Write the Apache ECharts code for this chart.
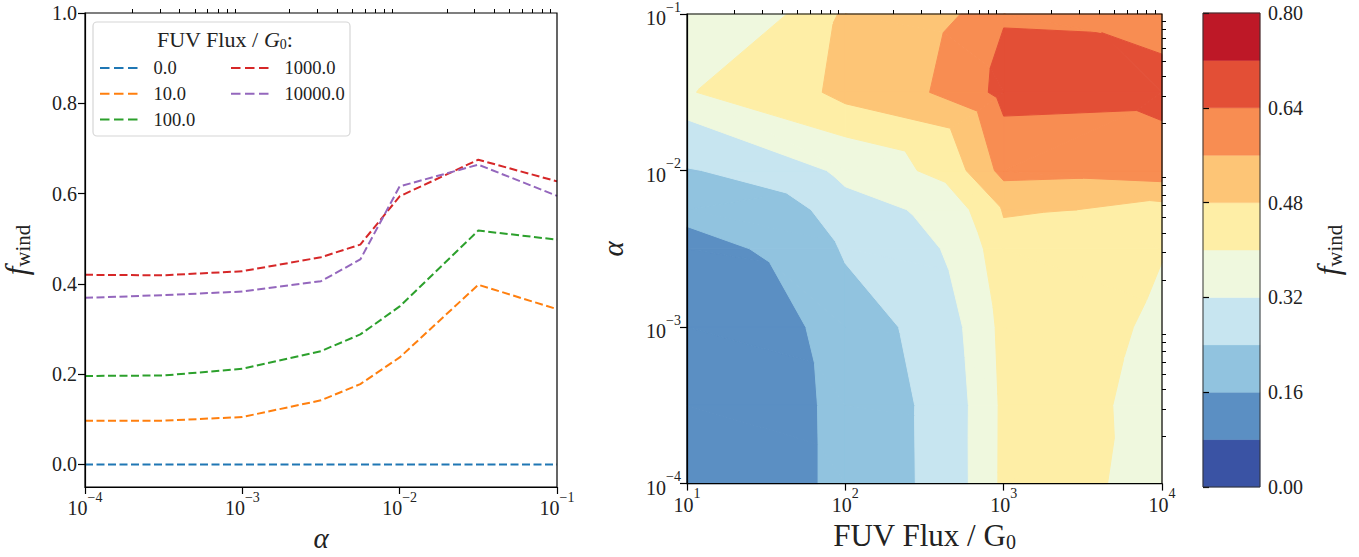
<!DOCTYPE html>
<html>
<head>
<meta charset="utf-8">
<title>f_wind vs alpha and FUV flux</title>
<script src="https://cdn.jsdelivr.net/npm/echarts@6/dist/echarts.min.js"></script>
<style>
  html, body { margin: 0; padding: 0; background: #fff; }
  #main { width: 1359px; height: 557px; }
</style>
</head>
<body>
<div id="main"></div>
<script>
// grid of viscosity values (x of left panel, y of right panel)
var alphaVals = [1e-4, 3.16e-4, 1e-3, 3.16e-3, 5.62e-3, 1e-2, 3.16e-2, 1e-1];
// FUV flux levels (G0) and their legend labels
var fuvFlux = [0, 10, 100, 1000, 10000];
var fuvNames = ['0.0', '10.0', '100.0', '1000.0', '10000.0'];
// f_wind for each flux
var fw0 = [0, 0, 0, 0, 0, 0, 0, 0];
var fw10 = [0.097, 0.097, 0.105, 0.142, 0.178, 0.237, 0.398, 0.344];
var fw100 = [0.196, 0.197, 0.212, 0.251, 0.288, 0.350, 0.518, 0.498];
var fw1000 = [0.420, 0.419, 0.428, 0.459, 0.487, 0.594, 0.675, 0.627];
var fw10000 = [0.369, 0.375, 0.383, 0.406, 0.454, 0.616, 0.664, 0.595];
var lineColors = ['#1f77b4', '#ff7f0e', '#2ca02c', '#d62728', '#9467bd'];

// contour levels and colours (RdYlBu_r, 10 bands)
var cbLevels = [0, 0.08, 0.16, 0.24, 0.32, 0.40, 0.48, 0.56, 0.64, 0.72, 0.80];
var cbColors = ['#3a53a4', '#5b8fc3', '#91c3df', '#c7e5f0', '#eff8de',
                '#feeea6', '#fdc576', '#f88d52', '#e34f36', '#be1827'];
var cbTicks = [0, 0.16, 0.32, 0.48, 0.64, 0.80];
var fwTicks = [0, 0.2, 0.4, 0.6, 0.8, 1.0];
var alphaTicks = [1e-4, 1e-3, 1e-2, 1e-1];
var fluxTicks = [10, 100, 1000, 10000];
// how each grid cell of the triangulation is split (0: '\', 1: '/'), rows = alpha cells
var cellSplit = [
  [0, 0, 1],
  [0, 0, 0],
  [0, 0, 0],
  [0, 0, 0],
  [1, 0, 0],
  [0, 1, 1],
  [1, 0, 0]
];

var fwRows = [fw0, fw10, fw100, fw1000, fw10000];
// contour grid uses the non-zero fluxes
var cFlux = fuvFlux.slice(1);
var cRows = fwRows.slice(1);

function minorTicks(lo, hi) {
  var out = [];
  for (var d = lo; d < hi; d *= 10) {
    for (var k = 2; k <= 9; k++) out.push(+(d * k).toPrecision(3));
  }
  return out;
}

var FONT = 'Liberation Serif';
var TXT = '#222';

function powLabel(v) {
  var e = Math.round(Math.log10(v));
  var s = e < 0 ? '\u2212' + (-e) : '' + e;
  return '{b|10}{e|' + s + '}';
}
var powRich = {
  b: { fontSize: 20, fontFamily: FONT, color: TXT, lineHeight: 28, verticalAlign: 'bottom' },
  e: { fontSize: 14, fontFamily: FONT, color: TXT, lineHeight: 28, verticalAlign: 'top' }
};

function clip(poly, level, above) {
  var out = [];
  for (var k = 0; k < poly.length; k++) {
    var p = poly[k], q = poly[(k + 1) % poly.length];
    var pin = above ? p[2] >= level : p[2] <= level;
    var qin = above ? q[2] >= level : q[2] <= level;
    if (pin) out.push(p);
    if (pin !== qin) {
      var t = (level - p[2]) / (q[2] - p[2]);
      out.push([p[0] + t * (q[0] - p[0]), p[1] + t * (q[1] - p[1]), level]);
    }
  }
  return out;
}

// one data item per grid cell of the contour map
var cellData = [];
for (var j = 0; j < alphaVals.length - 1; j++) {
  for (var i = 0; i < cFlux.length - 1; i++) {
    cellData.push([cFlux[i], alphaVals[j], i, j]);
  }
}

function renderCell(params, api) {
  var i = api.value(2), j = api.value(3);
  var BL = [cFlux[i], alphaVals[j], cRows[i][j]];
  var BR = [cFlux[i + 1], alphaVals[j], cRows[i + 1][j]];
  var TL = [cFlux[i], alphaVals[j + 1], cRows[i][j + 1]];
  var TR = [cFlux[i + 1], alphaVals[j + 1], cRows[i + 1][j + 1]];
  var tris = cellSplit[j][i] ? [[BL, BR, TR], [BL, TR, TL]] : [[BL, BR, TL], [BR, TR, TL]];
  var children = [];
  tris.forEach(function (tri) {
    for (var k = 0; k < cbColors.length; k++) {
      var poly = clip(clip(tri, cbLevels[k], true), cbLevels[k + 1], false);
      if (poly.length < 3) continue;
      children.push({
        type: 'polygon',
        shape: { points: poly.map(function (p) { return api.coord([p[0], p[1]]); }) },
        style: { fill: cbColors[k], stroke: cbColors[k], lineWidth: 1 }
      });
    }
  });
  return { type: 'group', children: children };
}

function renderBand(params, api) {
  var a = api.coord([0, api.value(2)]);
  var b = api.coord([1, api.value(1)]);
  return {
    type: 'rect',
    shape: { x: a[0], y: a[1], width: b[0] - a[0], height: b[1] - a[1] },
    style: { fill: cbColors[api.value(3)], stroke: cbColors[api.value(3)], lineWidth: 0.5 }
  };
}
var bandData = cbColors.map(function (c, k) { return [0, cbLevels[k], cbLevels[k + 1], k]; });

var tickLabel = { fontFamily: FONT, fontSize: 20, color: TXT };
var axLine = { show: true, onZero: false, lineStyle: { color: '#000', width: 1.2 } };
var dashIcon = 'path://M0,0h9.5v2h-9.5z M14,0h9.5v2h-9.5z M28,0h9.5v2h-9.5z';

var lineSeries = fwRows.map(function (row, n) {
  return {
    name: fuvNames[n],
    type: 'line',
    xAxisIndex: 0,
    yAxisIndex: 0,
    symbol: 'none',
    z: 3,
    data: alphaVals.map(function (a, k) { return [a, row[k]]; }),
    lineStyle: { color: lineColors[n], width: 2, type: [8, 3.5] },
    itemStyle: { color: lineColors[n] }
  };
});

var legendBase = {
  orient: 'vertical', top: 53, icon: dashIcon, itemWidth: 37.5, itemHeight: 2, itemGap: 5.8,
  selectedMode: false, z: 5,
  textStyle: { fontFamily: FONT, fontSize: 18.5, color: TXT, lineHeight: 20, padding: [0, 0, 0, 11] }
};

var chart = echarts.init(document.getElementById('main'), null, { renderer: 'svg' });
chart.setOption({
  animation: false,
  backgroundColor: '#fff',
  grid: [
    { left: 83, top: 13, width: 474, height: 474, show: true, borderColor: '#000', borderWidth: 1.2, z: 6, backgroundColor: 'transparent' },
    { left: 687, top: 13, width: 475, height: 474, show: true, borderColor: '#000', borderWidth: 1.2, z: 6, backgroundColor: 'transparent' },
    { left: 1203, top: 13, width: 57, height: 474, show: true, borderColor: '#333', borderWidth: 1, z: 6, backgroundColor: 'transparent' }
  ],
  title: {
    text: 'FUV Flux / {i|G}{s|0}:',
    left: 152, top: 22,
    textStyle: {
      fontFamily: FONT, fontSize: 22, fontWeight: 'normal', color: TXT,
      rich: {
        i: { fontFamily: FONT, fontSize: 22, fontStyle: 'italic', color: TXT },
        s: { fontFamily: FONT, fontSize: 14, color: TXT, padding: [10, 0, 0, 0] }
      }
    }
  },
  graphic: [{
    type: 'rect', z: 3,
    shape: { x: 93, y: 22, width: 257, height: 114, r: 4 },
    style: { fill: 'rgba(255,255,255,0.85)', stroke: '#d6d6d6', lineWidth: 1.2 }
  }],
  legend: [
    Object.assign({ data: fuvNames.slice(0, 3), left: 95 }, legendBase),
    Object.assign({ data: fuvNames.slice(3), left: 226 }, legendBase)
  ],
  xAxis: [
    { gridIndex: 0, type: 'log', logBase: 10, min: 1e-4, max: 1e-1, z: 5,
      axisLine: axLine, splitLine: { show: false },
      axisTick: { show: true, length: 7, customValues: alphaTicks, lineStyle: { color: '#000', width: 1.2 } },
      axisLabel: { customValues: alphaTicks, formatter: powLabel, rich: powRich, margin: 3 },
      name: '\u03b1', nameLocation: 'middle', nameGap: 36,
      nameTextStyle: { fontFamily: FONT, fontSize: 29, fontStyle: 'italic', color: TXT } },
    { gridIndex: 0, type: 'log', logBase: 10, min: 1e-4, max: 1e-1, z: 5,
      axisLine: { show: false, onZero: false }, splitLine: { show: false }, axisLabel: { show: false },
      axisTick: { show: true, length: 4, customValues: minorTicks(1e-4, 1e-1), lineStyle: { color: '#000', width: 1 } } },
    { gridIndex: 1, type: 'log', logBase: 10, min: 10, max: 10000, z: 5,
      axisLine: axLine, splitLine: { show: false },
      axisTick: { show: true, length: 7, customValues: fluxTicks, lineStyle: { color: '#000', width: 1.2 } },
      axisLabel: { customValues: fluxTicks, formatter: powLabel, rich: powRich, margin: 3 },
      name: 'FUV Flux / G{s|0}', nameLocation: 'middle', nameGap: 34,
      nameTextStyle: { fontFamily: FONT, fontSize: 31, color: TXT,
        rich: { s: { fontFamily: FONT, fontSize: 20, color: TXT, padding: [14, 0, 0, 0] } } } },
    { gridIndex: 1, type: 'log', logBase: 10, min: 10, max: 10000, z: 5,
      axisLine: { show: false, onZero: false }, splitLine: { show: false }, axisLabel: { show: false },
      axisTick: { show: true, length: 4, customValues: minorTicks(10, 10000), lineStyle: { color: '#000', width: 1 } } },
    { gridIndex: 2, type: 'value', min: 0, max: 1, show: false }
  ],
  yAxis: [
    { gridIndex: 0, type: 'value', min: -0.05, max: 1.0, z: 5,
      axisLine: axLine, splitLine: { show: false },
      axisTick: { show: true, length: 7, customValues: fwTicks, lineStyle: { color: '#000', width: 1.2 } },
      axisLabel: Object.assign({ customValues: fwTicks, margin: 8, formatter: function (v) { return v.toFixed(1); } }, tickLabel),
      name: '{f|f}{s|wind}', nameLocation: 'middle', nameGap: 52, nameRotate: 90,
      nameTextStyle: { rich: {
        f: { fontFamily: FONT, fontSize: 31, fontStyle: 'italic', color: TXT },
        s: { fontFamily: FONT, fontSize: 21, color: TXT, padding: [12, 0, 0, 0] } } } },
    { gridIndex: 1, type: 'log', logBase: 10, min: 1e-4, max: 1e-1, z: 5,
      axisLine: axLine, splitLine: { show: false },
      axisTick: { show: true, length: 7, customValues: alphaTicks, lineStyle: { color: '#000', width: 1.2 } },
      axisLabel: { customValues: alphaTicks, formatter: powLabel, rich: powRich, margin: 6 },
      name: '\u03b1', nameLocation: 'middle', nameGap: 60, nameRotate: 90,
      nameTextStyle: { fontFamily: FONT, fontSize: 29, fontStyle: 'italic', color: TXT } },
    { gridIndex: 1, type: 'log', logBase: 10, min: 1e-4, max: 1e-1, z: 5,
      axisLine: { show: false }, splitLine: { show: false }, axisLabel: { show: false },
      axisTick: { show: true, length: 4, customValues: minorTicks(1e-4, 1e-1), lineStyle: { color: '#000', width: 1 } } },
    { gridIndex: 2, type: 'value', min: 0, max: 0.8, position: 'right', z: 5,
      axisLine: { show: false }, splitLine: { show: false },
      axisTick: { show: true, length: 6, customValues: cbTicks, lineStyle: { color: '#000', width: 1.2 } },
      axisLabel: Object.assign({ customValues: cbTicks, margin: 8, formatter: function (v) { return v.toFixed(2); } }, tickLabel),
      name: '{f|f}{s|wind}', nameLocation: 'middle', nameGap: 52, nameRotate: 90,
      nameTextStyle: { rich: {
        f: { fontFamily: FONT, fontSize: 31, fontStyle: 'italic', color: TXT },
        s: { fontFamily: FONT, fontSize: 21, color: TXT, padding: [12, 0, 0, 0] } } } }
  ],
  series: lineSeries.concat([
    { type: 'custom', name: 'contour', xAxisIndex: 2, yAxisIndex: 1, z: 1,
      renderItem: renderCell, encode: { x: 0, y: 1 }, data: cellData, silent: true },
    { type: 'custom', name: 'colorbar', xAxisIndex: 4, yAxisIndex: 3, z: 1,
      renderItem: renderBand, encode: { x: 0, y: 1 }, data: bandData, silent: true }
  ])
});
</script>
</body>
</html>
